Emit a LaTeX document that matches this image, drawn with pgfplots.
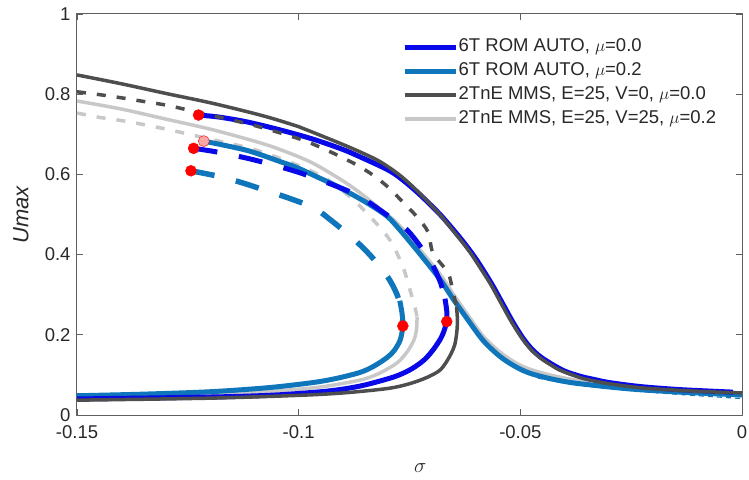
\documentclass[border=0pt]{standalone}
\usepackage{pgfplots}
\pgfplotsset{compat=1.18}
\usepackage{fontspec}
\setmainfont{Liberation Sans}
\definecolor{aublue}{RGB}{8,8,232}
\definecolor{austeel}{RGB}{16,118,188}
\definecolor{mmsdark}{RGB}{78,78,78}
\definecolor{mmslight}{RGB}{200,200,200}
\definecolor{axgray}{RGB}{95,95,95}
\definecolor{txtgray}{RGB}{40,40,40}
\begin{document}
\begin{tikzpicture}
\path[use as bounding box] (-77bp,-65bp) rectangle (672bp,415bp);
\begin{axis}[
 at={(0,0)}, anchor=south west,
 scale only axis, width=665bp, height=401bp,
 xmin=-0.15, xmax=0, ymin=0, ymax=1,
 xtick={-0.15,-0.1,-0.05,0}, xticklabels={-0.15,-0.1,-0.05,0},
 ytick={0,0.2,0.4,0.6,0.8,1}, yticklabels={0,0.2,0.4,0.6,0.8,1},
 tick align=inside, major tick length=6bp,
 axis line style={axgray, line width=1bp},
 tick style={axgray, line width=0.8bp},
 ticklabel style={font=\fontsize{18.5bp}{22bp}\selectfont, text=txtgray},
 xticklabel style={yshift=-7bp},
 yticklabel style={xshift=-3bp},
 xlabel={$\sigma$}, ylabel={\textit{Umax}},
 xlabel style={at={(axis description cs:0.516,-0.132)}, anchor=center, font=\fontsize{20bp}{24bp}\selectfont, text=txtgray},
 ylabel style={at={(axis description cs:-0.0842,0.5)}, anchor=center, font=\fontsize{22bp}{26bp}\selectfont, text=txtgray},
 legend style={at={(0.4887,0.944)}, anchor=north west, draw=none, fill=white,
   font=\fontsize{18.5bp}{22bp}\selectfont, text=txtgray, inner sep=0pt, row sep=3bp,
   nodes={inner xsep=0.5bp, inner ysep=0pt, text height=15bp, text depth=6bp}},
 legend cell align=left,
 legend image code/.code={\draw[#1] (0bp,0bp) -- (51bp,0bp);},
 line join=round, line cap=butt,
]
\addlegendimage{aublue, line width=5bp}
\addlegendentry{6T ROM AUTO, $\mu$=0.0}
\addlegendimage{austeel, line width=5bp}
\addlegendentry{6T ROM AUTO, $\mu$=0.2}
\addlegendimage{mmsdark, line width=3.5bp}
\addlegendentry{2TnE MMS, E=25, V=0, $\mu$=0.0}
\addlegendimage{mmslight, line width=3.5bp}
\addlegendentry{2TnE MMS, E=25, V=25, $\mu$=0.2}

% ---- MMS mu=0.2 (light gray)
\addplot[forget plot, mmslight, line width=3.5bp, smooth, tension=0.5] coordinates {
(-0.15,0.783) (-0.14,0.763) (-0.13,0.738) (-0.12,0.713) (-0.11,0.683) (-0.1042,0.662) (-0.0968,0.628) (-0.0884,0.572) (-0.0817,0.515) (-0.0772,0.472) (-0.0726,0.412) (-0.0681,0.351) (-0.0652,0.303) (-0.062,0.252) (-0.0584,0.197) (-0.0546,0.157) (-0.051,0.13) (-0.0478,0.114) (-0.043,0.099) (-0.038,0.088) (-0.03,0.074) (-0.02,0.063) (-0.01,0.055) (0,0.048)};
\addplot[forget plot, mmslight, line width=3.5bp, smooth, tension=0.5, dash pattern=on 9bp off 11bp] coordinates {
(-0.15,0.753) (-0.1448,0.742) (-0.1398,0.734) (-0.1353,0.725) (-0.1308,0.715) (-0.1263,0.704) (-0.12,0.688) (-0.11,0.662) (-0.10,0.622) (-0.094,0.59) (-0.0884,0.544) (-0.0835,0.49) (-0.0794,0.436) (-0.0765,0.37) (-0.0749,0.312) (-0.0738,0.27) (-0.0733,0.245)};
\addplot[forget plot, mmslight, line width=3.5bp, smooth, tension=0.5] coordinates {
(-0.0733,0.245) (-0.0734,0.215) (-0.074,0.187) (-0.0755,0.158) (-0.0778,0.13) (-0.082,0.103) (-0.0862,0.087) (-0.095,0.07) (-0.105,0.06) (-0.12,0.051) (-0.15,0.043)};

% ---- AUTO mu=0.2 (steel blue)
\addplot[forget plot, austeel, line width=5bp, smooth, tension=0.5] coordinates {
(-0.1214,0.683) (-0.1117,0.66) (-0.1042,0.632) (-0.1004,0.617) (-0.0959,0.594) (-0.092,0.574) (-0.0884,0.553) (-0.084,0.525) (-0.08,0.495) (-0.0772,0.462) (-0.0726,0.401) (-0.0681,0.338) (-0.0652,0.29) (-0.062,0.24) (-0.0584,0.186) (-0.0546,0.146) (-0.051,0.12) (-0.0478,0.104) (-0.043,0.09) (-0.038,0.08) (-0.03,0.07) (-0.023,0.063) (-0.012,0.056) (0,0.05)};
\addplot[forget plot, austeel, line width=5.5bp, smooth, tension=0.5, dash pattern=on 24bp off 22bp] coordinates {
(-0.1243,0.609) (-0.118,0.595) (-0.113,0.58) (-0.108,0.562) (-0.102,0.54) (-0.0965,0.516) (-0.0923,0.482) (-0.0873,0.436) (-0.0835,0.394) (-0.0799,0.344) (-0.0778,0.3) (-0.0768,0.26) (-0.0765,0.222)};
\addplot[forget plot, austeel, line width=5bp, smooth, tension=0.5] coordinates {
(-0.0772,0.285) (-0.0767,0.255) (-0.0765,0.222) (-0.0771,0.187) (-0.0785,0.16) (-0.0801,0.143) (-0.083,0.122) (-0.0862,0.106) (-0.092,0.09) (-0.0974,0.08) (-0.107,0.068) (-0.12,0.058) (-0.135,0.052) (-0.15,0.048)};
\addplot[forget plot, austeel, line width=1.2bp, dash pattern=on 5bp off 4bp, smooth] coordinates {
(-0.046,0.092) (-0.04,0.08) (-0.035,0.072) (-0.025,0.061) (-0.015,0.052) (0,0.041)};

% ---- AUTO mu=0 (blue)
\addplot[forget plot, aublue, line width=5bp, smooth, tension=0.5] coordinates {
(-0.1226,0.748) (-0.118,0.743) (-0.1117,0.731) (-0.1042,0.711) (-0.0968,0.688) (-0.09,0.662) (-0.085,0.638) (-0.08,0.612) (-0.0772,0.592) (-0.073,0.553) (-0.0681,0.5) (-0.0636,0.442) (-0.0605,0.397) (-0.0583,0.36) (-0.0562,0.322) (-0.0538,0.274) (-0.0516,0.23) (-0.0493,0.19) (-0.0472,0.162) (-0.0448,0.14) (-0.0403,0.111) (-0.0363,0.096) (-0.0335,0.089) (-0.030,0.081) (-0.023,0.071) (-0.015,0.064) (-0.008,0.06) (-0.002,0.057)};
\addplot[forget plot, aublue, line width=5bp, smooth, tension=0.5, dash pattern=on 24bp off 22bp] coordinates {
(-0.1237,0.665) (-0.118,0.655) (-0.11,0.636) (-0.10,0.605) (-0.09,0.564) (-0.0855,0.54) (-0.0805,0.502) (-0.0756,0.462) (-0.072,0.412) (-0.0697,0.372) (-0.068,0.33) (-0.067,0.29)};
\addplot[forget plot, aublue, line width=5bp, smooth, tension=0.5] coordinates {
(-0.067,0.29) (-0.0666,0.26) (-0.0666,0.235) (-0.0672,0.21) (-0.068,0.19) (-0.0695,0.165) (-0.071,0.145) (-0.0725,0.13) (-0.075,0.112) (-0.0785,0.095) (-0.085,0.075) (-0.0898,0.065) (-0.095,0.058) (-0.105,0.05) (-0.115,0.046) (-0.13,0.043) (-0.15,0.04)};

% ---- MMS mu=0 (dark gray)
\addplot[forget plot, mmsdark, line width=3.5bp, smooth, tension=0.5] coordinates {
(-0.15,0.848) (-0.14,0.826) (-0.13,0.802) (-0.1193,0.777) (-0.108,0.746) (-0.10,0.719) (-0.0968,0.705) (-0.0884,0.667) (-0.082,0.634) (-0.0772,0.598) (-0.073,0.556) (-0.0681,0.499) (-0.0636,0.438) (-0.0613,0.405) (-0.0591,0.368) (-0.0568,0.328) (-0.0546,0.284) (-0.0524,0.24) (-0.0501,0.199) (-0.048,0.168) (-0.0456,0.143) (-0.043,0.124) (-0.0411,0.112) (-0.037,0.095) (-0.0343,0.087) (-0.030,0.078) (-0.023,0.068) (-0.015,0.062) (-0.0075,0.058) (0,0.055)};
\addplot[forget plot, mmsdark, line width=3.5bp, smooth, tension=0.5, dash pattern=on 9bp off 11bp] coordinates {
(-0.15,0.806) (-0.145,0.799) (-0.14,0.791) (-0.135,0.782) (-0.13,0.773) (-0.1259,0.763) (-0.12,0.748) (-0.11,0.722) (-0.0997,0.688) (-0.0952,0.668) (-0.0907,0.645) (-0.0868,0.623) (-0.0832,0.598) (-0.0798,0.568) (-0.0765,0.531) (-0.0733,0.494) (-0.0708,0.456) (-0.0697,0.404) (-0.0663,0.354) (-0.0652,0.307) (-0.0644,0.27)};
\addplot[forget plot, mmsdark, line width=3.5bp, smooth, tension=0.5] coordinates {
(-0.0644,0.27) (-0.0642,0.24) (-0.0643,0.21) (-0.0648,0.175) (-0.066,0.145) (-0.068,0.113) (-0.071,0.094) (-0.075,0.078) (-0.08,0.066) (-0.09,0.055) (-0.10,0.049) (-0.12,0.042) (-0.15,0.037)};

% ---- bifurcation points
\addplot[forget plot, only marks, mark=*, mark size=5.5bp, mark options={draw=red, fill=red}] coordinates {
(-0.1226,0.748) (-0.1237,0.665) (-0.1243,0.609) (-0.0666,0.233) (-0.0765,0.222)};
\addplot[forget plot, only marks, mark=*, mark size=5.5bp, mark options={draw=red, fill=red!35!white}] coordinates {
(-0.1214,0.683)};
\end{axis}
\end{tikzpicture}
\end{document}
